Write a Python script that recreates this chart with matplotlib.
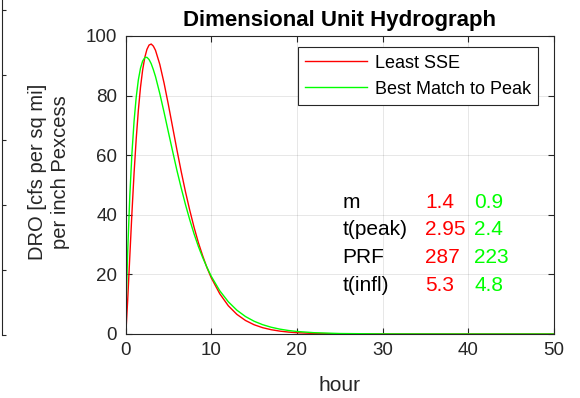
import matplotlib
matplotlib.use("Agg")
import matplotlib.pyplot as plt

plt.rcParams['font.family'] = ['Liberation Sans', 'DejaVu Sans']

hours = [0, 0.05, 0.1, 0.25, 0.5, 0.75, 1, 1.25, 1.5, 1.75, 2, 2.25, 2.5, 2.75,
         3, 3.25, 3.5, 4, 4.5, 5, 5.5, 6, 6.5, 7, 7.5, 8, 8.5, 9, 9.5, 10,
         11, 12, 13, 14, 15, 16, 17, 18, 19, 20, 22, 25, 30, 40, 50]
least_sse = [0, 1.28, 3.3, 11.1, 25.9, 40.6, 54.0, 65.5, 75.1, 82.8, 88.6, 92.8,
             95.5, 96.97, 97.3, 96.6, 95.2, 90.5, 84.2, 77.0, 69.4, 61.8, 54.5,
             47.7, 41.5, 35.8, 30.7, 26.3, 22.3, 18.9, 13.5, 9.46, 6.58, 4.54,
             3.11, 2.12, 1.44, 0.97, 0.65, 0.43, 0.19, 0.055, 0.01, 0, 0]
best_peak = [0, 6.9, 12.6, 27.2, 46.2, 60.6, 71.4, 79.5, 85.3, 89.2, 91.6, 92.75,
             92.85, 92.1, 90.7, 88.7, 86.4, 80.7, 74.4, 67.8, 61.3, 54.9, 49.0,
             43.4, 38.3, 33.6, 29.4, 25.7, 22.4, 19.4, 14.5, 10.8, 7.98, 5.86,
             4.29, 3.13, 2.27, 1.64, 1.18, 0.85, 0.44, 0.16, 0.03, 0, 0]

param_names = ['m', 't(peak)', 'PRF', 't(infl)']
param_sse = ['1.4', '2.95', '287', '5.3']
param_peak = ['0.9', '2.4', '223', '4.8']

series_labels = ['Least SSE', 'Best Match to Peak']
xticks = [0, 10, 20, 30, 40, 50]
yticks = [0, 20, 40, 60, 80, 100]

W, H = 580, 398
fig = plt.figure(figsize=(W / 100, H / 100), dpi=100)
L, R, T, B = 125.5, 554, 36, 334
ax = fig.add_axes([L / W, 1 - B / H, (R - L) / W, (B - T) / H])

dark = (0.15, 0.15, 0.15)
ax.plot(hours, least_sse, color=(1, 0, 0), lw=1.0, label=series_labels[0])
ax.plot(hours, best_peak, color=(0, 1, 0), lw=1.0, label=series_labels[1])

ax.set_xlim(0, 50)
ax.set_ylim(0, 100)
ax.set_xticks(xticks)
ax.set_yticks(yticks)
ax.grid(True, color=(0.15, 0.15, 0.15), alpha=0.13, lw=0.6)
ax.set_axisbelow(True)
for s in ax.spines.values():
    s.set_color(dark)
    s.set_linewidth(0.8)
ax.tick_params(direction='in', length=4, width=0.8, colors=dark,
               labelsize=13.5, top=True, right=True, pad=6)
for lab in ax.get_xticklabels() + ax.get_yticklabels():
    lab.set_color(dark)

ax.set_title('Dimensional Unit Hydrograph', fontsize=16, fontweight='bold',
             color='black', pad=7)
ax.set_xlabel('hour', fontsize=15, color=dark, labelpad=12)
ax.set_ylabel('DRO [cfs per sq mi]\nper inch Pexcess', fontsize=14.5,
              color=dark, va='center', multialignment='center')
ax.yaxis.set_label_coords((49 - L) / (R - L), (B - 172) / (B - T))

leg = ax.legend(loc='upper right', bbox_to_anchor=(0.963, 0.962), fontsize=13,
                frameon=True, fancybox=False, edgecolor=dark, framealpha=1,
                handlelength=3.4, handletextpad=0.45, borderpad=0.4,
                labelspacing=0.5, borderaxespad=0)
leg.get_frame().set_linewidth(0.8)

rows_y = [44, 35, 25.8, 16.3]
for name, a, b, yv in zip(param_names, param_sse, param_peak, rows_y):
    ax.text(25.3, yv, name, fontsize=15, color='black', va='center', ha='left')
    ax.text(35.0, yv, a, fontsize=15, color=(1, 0, 0), va='center', ha='left')
    ax.text(40.7, yv, b, fontsize=15, color=(0, 1, 0), va='center', ha='left')

# fragment of neighbouring panel at the left edge
edge = fig.add_axes([-0.2, 1 - 335 / H, 0.2 + 2 / W, 335 / H])
edge.set_xlim(0, 1)
edge.set_ylim(0, 335 / 65)
edge.patch.set_visible(False)
for k in ['left', 'top', 'bottom']:
    edge.spines[k].set_visible(False)
edge.spines['right'].set_color(dark)
edge.spines['right'].set_linewidth(0.8)
edge.set_xticks([])
edge.set_yticks([0, 1, 2, 3, 4, 5])
edge.yaxis.tick_right()
edge.tick_params(axis='y', direction='out', length=3, width=0.8, colors=dark,
                 labelright=False)

fig.savefig('out.png', dpi=100)
